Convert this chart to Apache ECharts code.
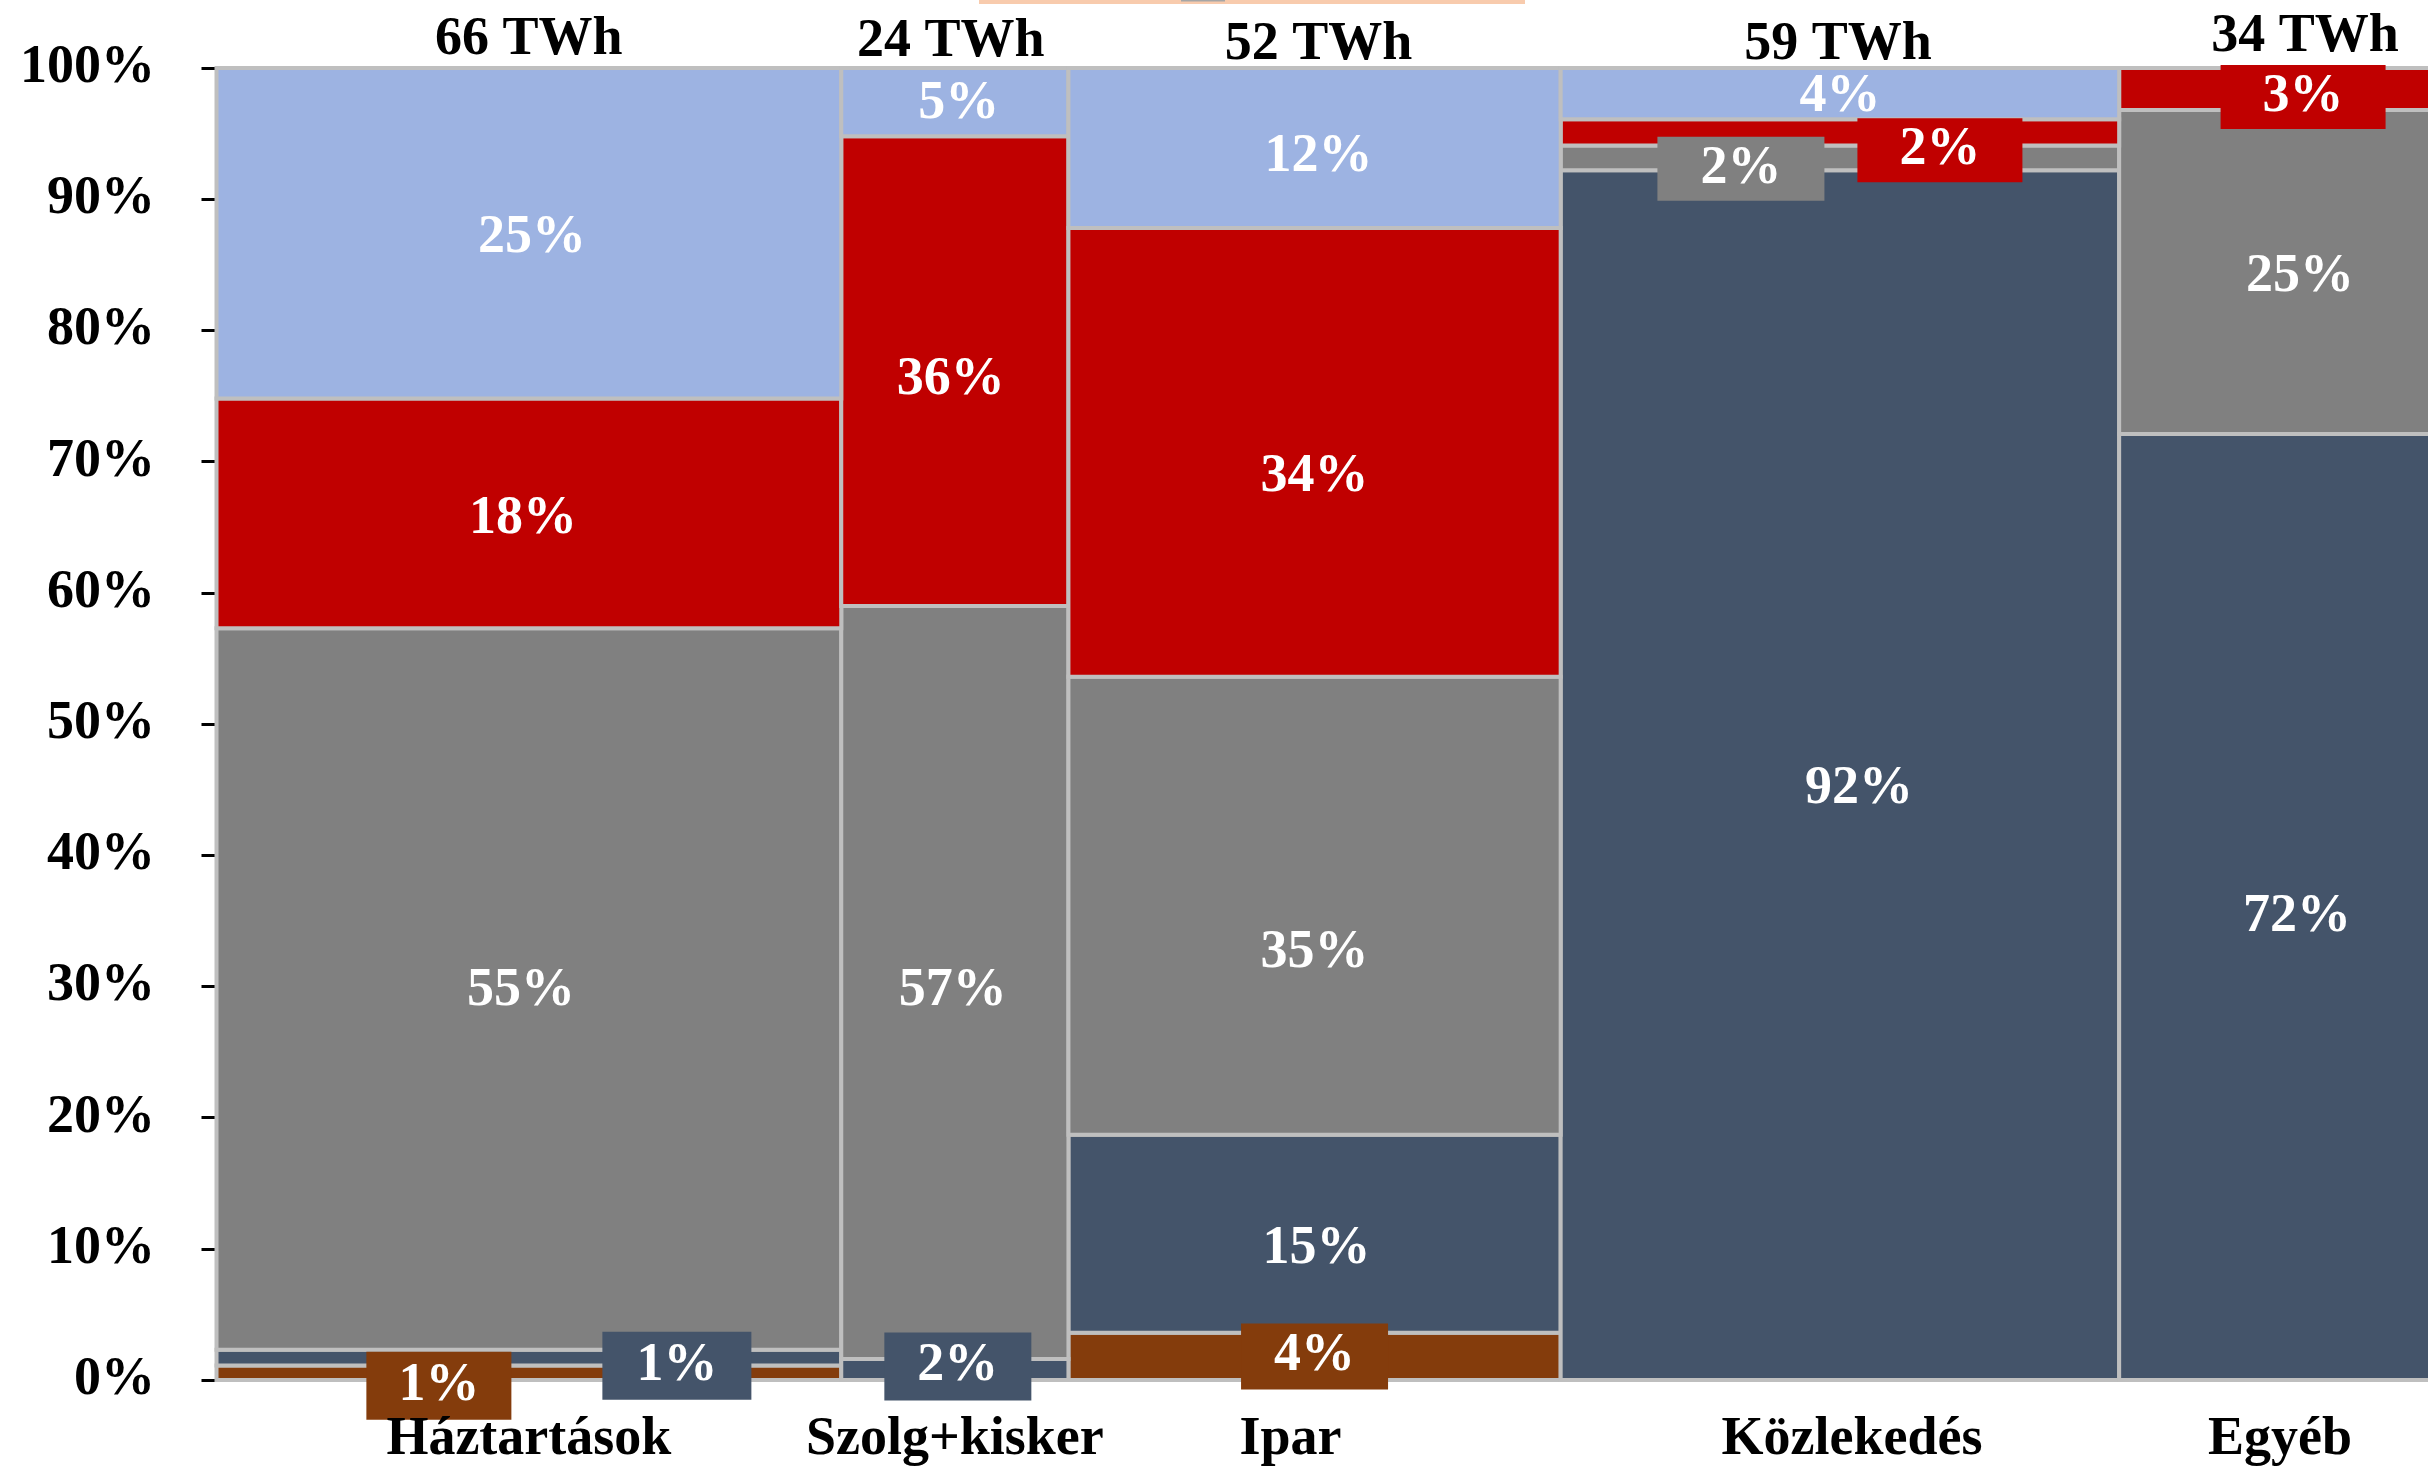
<!DOCTYPE html>
<html>
<head>
<meta charset="utf-8">
<script src="https://cdn.jsdelivr.net/npm/echarts@6/dist/echarts.min.js"></script>
<style>
  html, body { margin: 0; padding: 0; background: #ffffff; }
  #chart { width: 2428px; height: 1468px; }
</style>
</head>
<body>
<div id="chart"></div>
<script>
// Sectors and their total final energy use (TWh) -> column widths
const sectors = ['Háztartások', 'Szolg+kisker', 'Ipar', 'Közlekedés', 'Egyéb'];
const sectorTWh = [66, 24, 52, 59, 34];

// Energy sources, stacked from the bottom up
const sources = ['Szén', 'Olaj', 'Földgáz', 'Villamos energia', 'Megújuló és hő'];

// Share of each source within a sector (%), one value per sector
const coalShare    = [1.1, 0,    3.6,  0,    0];
const oilShare     = [1.2, 1.6,  15.1, 92.2, 72.1];
const gasShare     = [55.0, 57.4, 34.9, 1.9, 24.7];
const powerShare   = [17.5, 35.8, 34.2, 2.0, 3.2];
const renewShare   = [25.2, 5.2,  12.2, 3.9, 0];

// Percent axis ticks
const yTicks = [0, 10, 20, 30, 40, 50, 60, 70, 80, 90, 100];

const shareTable = [coalShare, oilShare, gasShare, powerShare, renewShare];
const sourceColors = ['#843c0c', '#44546a', '#808080', '#c00000', '#9db3e2'];

const FONT = '"Liberation Serif", "Times New Roman", serif';
const FONT_SIZE = 54;

// Nudges for labels that sit off-centre or in a callout box
const labelShift = {
  'Háztartások|Szén': [-90, 13],
  'Háztartások|Olaj': [148, 8],
  'Háztartások|Földgáz': [-8, 2],
  'Háztartások|Villamos energia': [-6, 6],
  'Háztartások|Megújuló és hő': [3, 5],
  'Szolg+kisker|Olaj': [3, -3],
  'Szolg+kisker|Földgáz': [-2, 9],
  'Szolg+kisker|Villamos energia': [-4, 9],
  'Szolg+kisker|Megújuló és hő': [4, 2],
  'Ipar|Olaj': [2, 15],
  'Ipar|Földgáz': [0, 47],
  'Ipar|Villamos energia': [0, 25],
  'Ipar|Megújuló és hő': [4, 9],
  'Közlekedés|Olaj': [19, 14],
  'Közlekedés|Földgáz': [-99, 11],
  'Közlekedés|Villamos energia': [100, 18],
  'Közlekedés|Megújuló és hő': [0, 3],
  'Egyéb|Olaj': [17, 10],
  'Egyéb|Földgáz': [20, 5],
  'Egyéb|Villamos energia': [23, 8]
};
// Callout boxes (padding [v, h]) for the thin segments
const labelBox = {
  'Háztartások|Szén': [7, 32],
  'Háztartások|Olaj': [7, 34],
  'Szolg+kisker|Olaj': [7, 33],
  'Ipar|Szén': [6, 33],
  'Közlekedés|Földgáz': [5, 43],
  'Közlekedés|Villamos energia': [5, 42],
  'Egyéb|Villamos energia': [5, 42]
};
const topShift = { 'Háztartások': [0, 1], 'Szolg+kisker': [-4, 3], 'Ipar': [4, 6], 'Közlekedés': [-2, 6], 'Egyéb': [25, -2] };
const bottomShift = { 'Háztartások': [0, 3], 'Szolg+kisker': [0, 3], 'Ipar': [-24, 3], 'Közlekedés': [12, 3], 'Egyéb': [0, 3] };

// Build segment rectangles in data units: [x0, x1, y0, y1, share, sectorIdx, sourceIdx]
const segments = sources.map(() => []);
let xCursor = 0;
const sectorSpans = [];
sectors.forEach((sec, i) => {
  const x0 = xCursor, x1 = xCursor + sectorTWh[i];
  sectorSpans.push([x0, x1, i]);
  let yCursor = 0;
  sources.forEach((src, s) => {
    const v = shareTable[s][i];
    if (v > 0) {
      segments[s].push([x0, x1, yCursor, yCursor + v, v, i, s]);
    }
    yCursor += v;
  });
  xCursor = x1;
});
const totalTWh = xCursor;
const allSegments = [].concat(...segments);

function rectSeries(s) {
  return {
    type: 'custom',
    name: sources[s],
    z: 2,
    clip: false,
    data: segments[s],
    encode: { x: [0, 1], y: [2, 3] },
    renderItem: function (params, api) {
      const p0 = api.coord([api.value(0), api.value(2)]);
      const p1 = api.coord([api.value(1), api.value(3)]);
      return {
        type: 'rect',
        shape: { x: p0[0], y: p1[1], width: p1[0] - p0[0], height: p0[1] - p1[1] },
        style: { fill: sourceColors[s], stroke: '#bfbfbf', lineWidth: 4 }
      };
    }
  };
}

const labelSeries = {
  type: 'custom',
  name: 'címkék',
  z: 5,
  clip: false,
  data: allSegments,
  encode: { x: [0, 1], y: [2, 3] },
  renderItem: function (params, api) {
    const x0 = api.value(0), x1 = api.value(1), y0 = api.value(2), y1 = api.value(3);
    const share = api.value(4);
    const sec = sectors[api.value(5)], src = sources[api.value(6)];
    const key = sec + '|' + src;
    const c = api.coord([(x0 + x1) / 2, (y0 + y1) / 2]);
    const sh = labelShift[key] || [0, 0];
    const box = labelBox[key];
    const style = {
      text: Math.round(share) + '%',
      x: c[0] + sh[0],
      y: c[1] + sh[1],
      fill: '#ffffff',
      fontFamily: FONT,
      fontWeight: 'bold',
      fontSize: FONT_SIZE,
      align: 'center',
      verticalAlign: 'middle'
    };
    if (box) {
      style.backgroundColor = sourceColors[api.value(6)];
      style.padding = box;
    }
    return { type: 'text', style: style };
  }
};

const sectorTextSeries = {
  type: 'custom',
  name: 'ágazatok',
  z: 6,
  clip: false,
  data: sectorSpans,
  encode: { x: [0, 1] },
  renderItem: function (params, api) {
    const i = api.value(2);
    const xc = (api.value(0) + api.value(1)) / 2;
    const top = api.coord([xc, 100]);
    const bottom = api.coord([xc, 0]);
    const ts = topShift[sectors[i]] || [0, 0];
    const bs = bottomShift[sectors[i]] || [0, 0];
    const common = { fill: '#000000', fontFamily: FONT, fontWeight: 'bold', fontSize: FONT_SIZE, align: 'center', verticalAlign: 'middle' };
    return {
      type: 'group',
      children: [
        { type: 'text', style: Object.assign({ text: sectorTWh[i] + ' TWh', x: top[0] + ts[0], y: top[1] - 29 + ts[1] }, common) },
        { type: 'text', style: Object.assign({ text: sectors[i], x: bottom[0] + bs[0], y: bottom[1] + 57 + bs[1] }, common) }
      ]
    };
  }
};

const chart = echarts.init(document.getElementById('chart'), null, { renderer: 'canvas' });
chart.setOption({
  animation: false,
  backgroundColor: '#ffffff',
  grid: { left: 216.5, right: -13, top: 68, bottom: 88, containLabel: false, outerBoundsMode: 'none' },
  xAxis: {
    type: 'value', min: 0, max: totalTWh,
    axisLine: { show: false }, axisTick: { show: false }, axisLabel: { show: false }, splitLine: { show: false }
  },
  yAxis: {
    type: 'value', min: yTicks[0], max: yTicks[yTicks.length - 1], interval: yTicks[1] - yTicks[0],
    offset: 11.5,
    axisLine: { show: true, lineStyle: { color: '#000000', width: 3 } },
    axisTick: { show: true, length: 15, lineStyle: { color: '#000000', width: 3 } },
    axisLabel: {
      margin: 50, color: '#000000', fontFamily: FONT, fontWeight: 'bold', fontSize: FONT_SIZE,
      formatter: '{value}%'
    },
    splitLine: { show: false }
  },
  graphic: [
    { type: 'rect', shape: { x: 979, y: 0, width: 546, height: 4 }, style: { fill: '#f8cbad' } },
    { type: 'rect', shape: { x: 1181, y: 0, width: 44, height: 1.5 }, style: { fill: '#a6a6a6' } }
  ],
  series: sources.map((_, s) => rectSeries(s)).concat([labelSeries, sectorTextSeries])
});
</script>
</body>
</html>
